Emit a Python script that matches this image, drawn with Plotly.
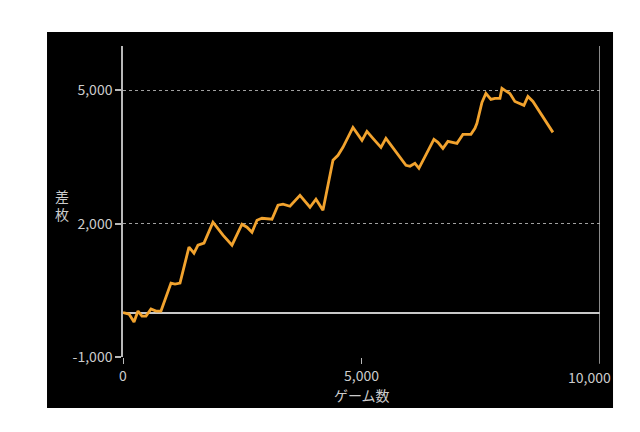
import plotly.graph_objects as go

games = [0, 126, 231, 314, 398, 482, 587, 692, 796, 1006, 1090, 1195, 1383, 1488, 1572, 1698,
         1886, 2096, 2285, 2494, 2599, 2704, 2809, 2913, 3123, 3249, 3354, 3500, 3710, 3920,
         4045, 4192, 4402, 4507, 4611, 4821, 5010, 5114, 5240, 5408, 5512, 5701, 5932, 6016,
         6120, 6204, 6518, 6602, 6707, 6812, 6917, 7001, 7126, 7294, 7378, 7420, 7525, 7608,
         7713, 7797, 7902, 7944, 8007, 8111, 8216, 8363, 8405, 8489, 8594, 9013]
diff = [0, -34, -213, 34, -79, -79, 79, 34, 34, 663, 640, 663, 1472, 1337, 1517, 1562,
        2034, 1741, 1517, 1989, 1921, 1809, 2078, 2123, 2101, 2416, 2438, 2393, 2640, 2371,
        2551, 2303, 3427, 3539, 3719, 4168, 3876, 4078, 3921, 3719, 3921, 3651, 3314, 3292,
        3359, 3247, 3898, 3831, 3696, 3854, 3831, 3809, 4011, 4011, 4146, 4258, 4730, 4932,
        4797, 4820, 4820, 5045, 5000, 4932, 4752, 4685, 4663, 4865, 4752, 4056]

y_tickvals = [-1000, 2000, 5000]
y_ticktext = ["-1,000", "2,000", "5,000"]
x_tickvals = [0, 5000]
x_ticktext = ["0", "5,000"]

font = "Noto Sans CJK JP"
txt = "#cccccc"
axc = "#b8b8b8"

fig = go.Figure()
fig.add_trace(go.Scatter(x=games, y=diff, mode="lines",
                         line=dict(color="#f2a32e", width=2.8), hoverinfo="skip"))

fig.update_layout(
    width=640, height=432,
    margin=dict(l=115, r=48, t=38, b=83),
    paper_bgcolor="white", plot_bgcolor="black",
    showlegend=False,
    font=dict(family=font, size=14, color=txt),
    xaxis=dict(range=[0, 10000], tickvals=x_tickvals, ticktext=x_ticktext,
               showgrid=False, zeroline=False, showline=False,
               ticks="outside", ticklen=6, tickcolor=axc, tickwidth=1,
               tickfont=dict(family=font, size=14, color=txt)),
    yaxis=dict(range=[-1000, 6000], tickvals=y_tickvals, ticktext=y_ticktext,
               showgrid=True, gridcolor="#a0a0a0", griddash="dot", gridwidth=1,
               zeroline=True, zerolinecolor="#c8c8c8", zerolinewidth=1.5,
               showline=True, linecolor=axc, linewidth=1.5,
               ticks="outside", ticklen=6, tickcolor=axc, tickwidth=1.5,
               tickfont=dict(family=font, size=14, color=txt)),
    shapes=[
        dict(type="rect", xref="paper", yref="paper", x0=-0.1593, x1=1.0273,
             y0=-0.164, y1=1.045, fillcolor="black", line=dict(width=0), layer="below"),
        dict(type="line", xref="x", yref="paper", x0=10000, x1=10000, y0=-0.022, y1=1.0,
             line=dict(color=axc, width=1.5)),
    ],
    annotations=[
        dict(text="10,000", x=10000, xref="x", y=0, yref="paper", xanchor="right",
             yanchor="top", xshift=13, yshift=-8, showarrow=False,
             font=dict(family=font, size=14, color=txt)),
        dict(text="ゲーム数", x=0.5, xref="paper", y=-0.122, yref="paper",
             xanchor="center", yanchor="middle", showarrow=False,
             font=dict(family=font, size=14, color=txt)),
        dict(text="差<br>枚", x=-0.128, xref="paper", y=0.489, yref="paper",
             xanchor="center", yanchor="middle", showarrow=False,
             font=dict(family=font, size=14, color=txt)),
    ],
)

fig.write_html("out.html")
